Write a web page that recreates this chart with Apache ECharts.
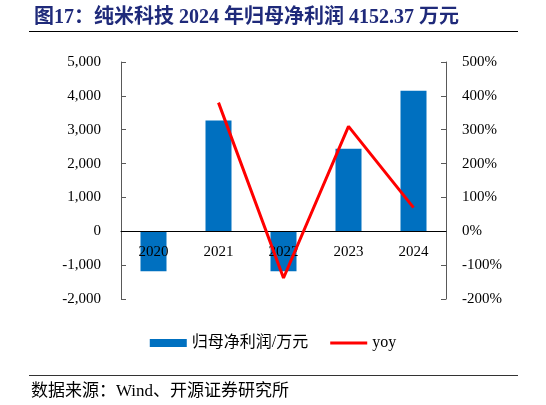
<!DOCTYPE html>
<html>
<head>
<meta charset="utf-8">
<script src="https://cdn.jsdelivr.net/npm/echarts@6/dist/echarts.min.js"></script>
<style>
  html, body { margin: 0; padding: 0; background: #fff; }
  #chart { width: 546px; height: 405px; }
</style>
</head>
<body>
<div id="chart"></div>
<script>
// 年份
const years = ['2020', '2021', '2022', '2023', '2024'];
// 归母净利润/万元
const profit = [-1180, 3270, -1180, 2440, 4152.37];
// yoy (%)
const yoy = [null, 380, -138, 310, 70];

const FONT = '"Liberation Serif", "Noto Sans CJK SC", serif';
const AXIS_COLOR = '#595959';

var chartDom = document.getElementById('chart');
var myChart = echarts.init(chartDom);
var option = {
    animation: false,
    textStyle: { fontFamily: FONT },
    title: {
        text: '图17：纯米科技 2024 年归母净利润 4152.37 万元',
        left: 29,
        top: 3,
        textStyle: {
            fontFamily: FONT,
            fontSize: 20,
            fontWeight: 'bold',
            color: '#1f2a7a'
        }
    },
    graphic: [
        // 标题下的线
        { type: 'line', shape: { x1: 29, y1: 31.5, x2: 518, y2: 31.5 }, style: { stroke: '#000', lineWidth: 1 } },
        // 来源上的线
        { type: 'line', shape: { x1: 29, y1: 375.5, x2: 518, y2: 375.5 }, style: { stroke: '#333', lineWidth: 1 } },
        {
            type: 'text', left: 31, top: 383,
            style: { text: '数据来源：Wind、开源证券研究所', font: '17px ' + FONT, fill: '#000' }
        }
    ],
    legend: {
        top: 330,
        left: 'center',
        itemGap: 22,
        itemWidth: 37,
        itemHeight: 8,
        textStyle: { fontFamily: FONT, fontSize: 16, color: '#000' },
        data: [
            { name: '归母净利润/万元', icon: 'rect' },
            { name: 'yoy', icon: 'path://M0,0 L40,0 L40,3 L0,3 Z' }
        ]
    },
    grid: { left: 121, right: 100, top: 62, bottom: 106 },
    xAxis: {
        type: 'category',
        data: years,
        z: 10,
        // 把类目轴移到 0 线
        offset: -67.7,
        axisLine: { onZero: false, lineStyle: { color: '#000', width: 1 } },
        axisTick: { inside: true, length: 5, lineStyle: { color: '#000' } },
        axisLabel: { fontFamily: FONT, fontSize: 15, color: '#000', margin: 13 }
    },
    yAxis: [
        {
            type: 'value',
            min: -2000,
            max: 5000,
            interval: 1000,
            splitLine: { show: false },
            axisLine: { show: true, lineStyle: { color: AXIS_COLOR } },
            axisTick: { show: true, inside: true, length: 5, lineStyle: { color: AXIS_COLOR } },
            axisLabel: {
                fontFamily: FONT, fontSize: 15, color: '#000', margin: 20,
                formatter: v => v.toLocaleString('en-US')
            }
        },
        {
            type: 'value',
            min: -200,
            max: 500,
            interval: 100,
            splitLine: { show: false },
            axisLine: { show: true, lineStyle: { color: AXIS_COLOR } },
            axisTick: { show: true, inside: true, length: 5, lineStyle: { color: AXIS_COLOR } },
            axisLabel: {
                fontFamily: FONT, fontSize: 15, color: '#000', margin: 16,
                formatter: v => v + '%'
            }
        }
    ],
    series: [
        {
            name: '归母净利润/万元',
            type: 'bar',
            data: profit,
            barWidth: 26,
            z: 2,
            itemStyle: { color: '#0070c0' }
        },
        {
            name: 'yoy',
            type: 'line',
            yAxisIndex: 1,
            data: yoy,
            symbol: 'none',
            z: 20,
            lineStyle: { color: '#ff0000', width: 3 },
            itemStyle: { color: '#ff0000' }
        }
    ]
};
myChart.setOption(option);
</script>
</body>
</html>
